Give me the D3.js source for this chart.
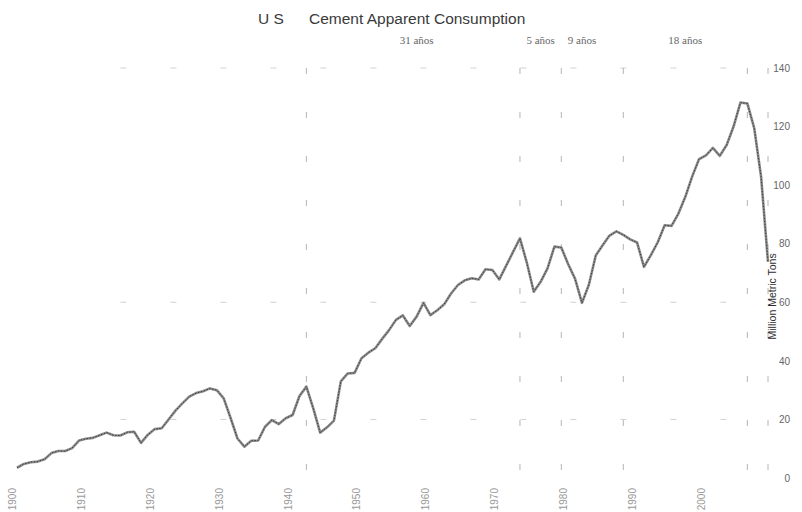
<!DOCTYPE html>
<html>
<head>
<meta charset="utf-8">
<script src="https://cdn.jsdelivr.net/npm/d3@7"></script>
<style>
  html, body { margin: 0; padding: 0; background: #fff; }
  svg { display: block; }
</style>
</head>
<body>
<svg id="chart" width="802" height="512"></svg>
<script>
// ---- data ----
const titleParts = ["U S", "Cement Apparent Consumption"];
const yTitle = "Million Metric Tons";
const years = d3.range(1900, 2010);
const consumption = [
  3.5, 4.8, 5.4, 5.6, 6.4, 8.5, 9.2, 9.2, 10.2, 12.8,
  13.4, 13.7, 14.6, 15.5, 14.6, 14.5, 15.6, 15.8, 12.0, 14.8,
  16.7, 17.0, 20.0, 23.0, 25.5, 27.8, 29.0, 29.6, 30.6, 30.0,
  27.2, 20.5, 13.5, 10.7, 12.7, 12.8, 17.5, 19.8, 18.4, 20.4,
  21.5, 28.0, 31.2, 23.8, 15.5, 17.3, 19.6, 33.0, 35.7, 35.9,
  40.9, 42.8, 44.3, 47.5, 50.5, 54.0, 55.5, 51.9, 55.1, 59.8,
  55.6, 57.3, 59.3, 63.0, 65.9, 67.5, 68.2, 67.8, 71.3, 71.0,
  67.8, 72.5, 77.2, 81.8, 73.5, 63.6, 67.0, 71.6, 79.0, 78.7,
  73.0, 68.0, 59.8, 66.0, 76.0, 79.5, 82.8, 84.2, 83.0, 81.5,
  80.4, 72.1, 76.1, 80.5, 86.3, 86.1, 90.3, 96.0, 103.0, 108.9,
  110.2, 112.7, 110.0, 113.7, 120.0, 128.2, 127.9, 119.5, 102.8, 73.8
];
const xTickYears = [1900, 1910, 1920, 1930, 1940, 1950, 1960, 1970, 1980, 1990, 2000];
const yTicks = [0, 20, 40, 60, 80, 100, 120, 140];
const gridValues = [20, 60, 140];
const cycleYears = [1942, 1973, 1979, 1988, 2006, 2009];
const cycleLabels = ["31 años", "5 años", "9 años", "18 años"];
const cycleLabelYears = [1958, 1976, 1982, 1997];

// ---- layout ----
const svg = d3.select("#chart");
const x = d3.scaleLinear().domain([1900, 2009]).range([17, 768]);
const y = d3.scaleLinear().domain([0, 140]).range([478, 68]);

// faint, broken gridlines (the reference shows only scattered fragments)
svg.append("g")
  .selectAll("line")
  .data(gridValues)
  .join("line")
  .attr("x1", x(1915)).attr("x2", x(2009))
  .attr("y1", d => y(d)).attr("y2", d => y(d))
  .attr("stroke", "#d2d2d2")
  .attr("stroke-width", 1)
  .attr("stroke-dasharray", "6,44");

// dashed cycle markers
svg.append("g")
  .selectAll("line")
  .data(cycleYears)
  .join("line")
  .attr("x1", d => x(d)).attr("x2", d => x(d))
  .attr("y1", y(140)).attr("y2", y(0))
  .attr("stroke", "#b4b4b4")
  .attr("stroke-width", 1)
  .attr("stroke-dasharray", "6,38");

// cycle labels
svg.append("g")
  .selectAll("text")
  .data(cycleLabels)
  .join("text")
  .attr("x", (d, i) => x(cycleLabelYears[i]))
  .attr("y", 44)
  .attr("text-anchor", "middle")
  .attr("font-family", "'Liberation Serif', 'DejaVu Serif', serif")
  .attr("font-size", 11)
  .attr("fill", "#666")
  .text(d => d);

// title
const title = svg.append("text")
  .attr("y", 24)
  .attr("font-family", "'Liberation Sans', Arial, sans-serif")
  .attr("font-size", 15.5)
  .attr("fill", "#3a3a3a");
title.append("tspan").attr("x", 258).text(titleParts[0]);
title.append("tspan").attr("x", 309).text(titleParts[1]);

// x axis (labels only)
const xAxis = d3.axisBottom(x)
  .tickValues(xTickYears)
  .tickFormat(d3.format("d"))
  .tickSize(0);
const gx = svg.append("g").attr("transform", `translate(0,${y(0)})`).call(xAxis);
gx.select(".domain").remove();
gx.selectAll("text")
  .attr("font-family", "'Liberation Sans', Arial, sans-serif")
  .attr("font-size", 10)
  .attr("fill", "#999")
  .attr("text-anchor", "end")
  .attr("transform", "rotate(-90)")
  .attr("x", -10)
  .attr("y", 0)
  .attr("dy", "-0.15em");

// y axis on the right (labels only)
const yAxis = d3.axisRight(y).tickValues(yTicks).tickSize(0);
const gy = svg.append("g").attr("transform", "translate(790,0)").call(yAxis);
gy.select(".domain").remove();
gy.selectAll("text")
  .attr("font-family", "'Liberation Sans', Arial, sans-serif")
  .attr("font-size", 10)
  .attr("fill", "#666")
  .attr("text-anchor", "end")
  .attr("x", 0);

// y axis title
svg.append("text")
  .attr("transform", `translate(776,${y(62)}) rotate(-90)`)
  .attr("text-anchor", "middle")
  .attr("font-family", "'Liberation Sans', Arial, sans-serif")
  .attr("font-size", 10.5)
  .attr("fill", "#2e2e2e")
  .text(yTitle);

// consumption line
const line = d3.line()
  .x((d, i) => x(years[i]))
  .y(d => y(d));
svg.append("path")
  .datum(consumption)
  .attr("fill", "none")
  .attr("stroke", "#8c8c8c")
  .attr("stroke-width", 2.6)
  .attr("stroke-linejoin", "round")
  .attr("d", line);
svg.append("path")
  .datum(consumption)
  .attr("fill", "none")
  .attr("stroke", "#3c3c3c")
  .attr("stroke-width", 1)
  .attr("stroke-dasharray", "1.5,1.5")
  .attr("stroke-linejoin", "round")
  .attr("d", line);
</script>
</body>
</html>
